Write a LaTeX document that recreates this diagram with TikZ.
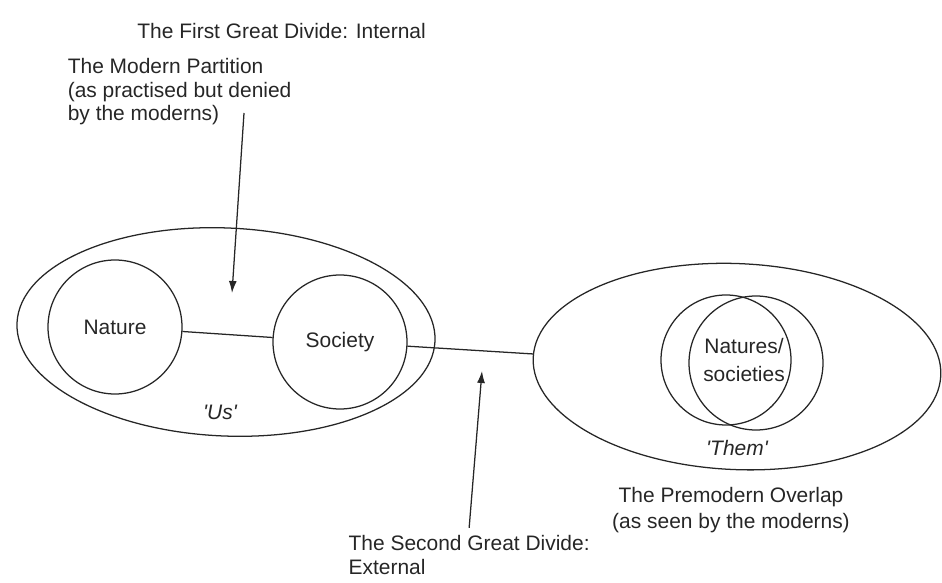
\documentclass[tikz,border=0pt]{standalone}
\usepackage{fontspec}
\setmainfont{Liberation Sans}[Ligatures=TeXOff]
\usetikzlibrary{arrows.meta,shapes.geometric}
\begin{document}
\begin{tikzpicture}[line width=0.9pt, color=black!85,
    font=\fontsize{14.9}{16.5}\selectfont,
    sphere/.style={draw, circle, minimum size=3.35cm, inner sep=0pt},
    world/.style={draw, ellipse, inner sep=0pt, rotate=-2.5},
    caption/.style={inner sep=0pt},
    pointer/.style={-{Latex[length=3mm,width=2mm]}}]
    \useasboundingbox (0,0) rectangle (23.55,14.575);
    \node[world, minimum width=10.46cm, minimum height=5.2cm] (us) at (5.65,6.275) {};
    \node[world, minimum width=10.2cm, minimum height=5.15cm] (them) at (18.425,5.41) {};
    \node[sphere] (nature) at (2.875,6.4) {Nature};
    \node[sphere] (society) at (8.5,6.025) {Society};
    \node[sphere, minimum size=3.25cm] (natures) at (18.15,5.575) {};
    \node[sphere] (societies) at (18.9,5.5) {};
    \node[caption, align=center] (hybrid) at (18.6,5.575) {Natures/\\[3.4pt]societies};
    \draw (nature) -- (society);
    \draw (society) -- (them);
    \node[caption] (us label) at (5.5,4.275) {\itshape 'Us'};
    \node[caption] (them label) at (18.425,3.375) {\itshape 'Them'};
    \node[caption, anchor=base] (first) at (7.04,13.6) {The First Great Divide: Internal};
    \node[caption, anchor=north west, align=left] (partition) at (1.68,13.125)
        {The Modern Partition\\(as practised but denied\\by the moderns)};
    \node[caption, anchor=north, align=center] (overlap) at (18.275,2.4)
        {The Premodern Overlap\\[2pt](as seen by the moderns)};
    \node[caption, anchor=north west, align=left] (second) at (8.7,1.2)
        {The Second Great Divide:\\External};
    \coordinate (partition foot) at (6.1,11.75);
    \coordinate (inner gap) at (5.8,7.25);
    \coordinate (outer gap) at (12.05,5.3);
    \draw[pointer] (partition foot) -- (inner gap);
    \draw[pointer] ([yshift=1.8mm]second.north) -- (outer gap);
\end{tikzpicture}
\end{document}
